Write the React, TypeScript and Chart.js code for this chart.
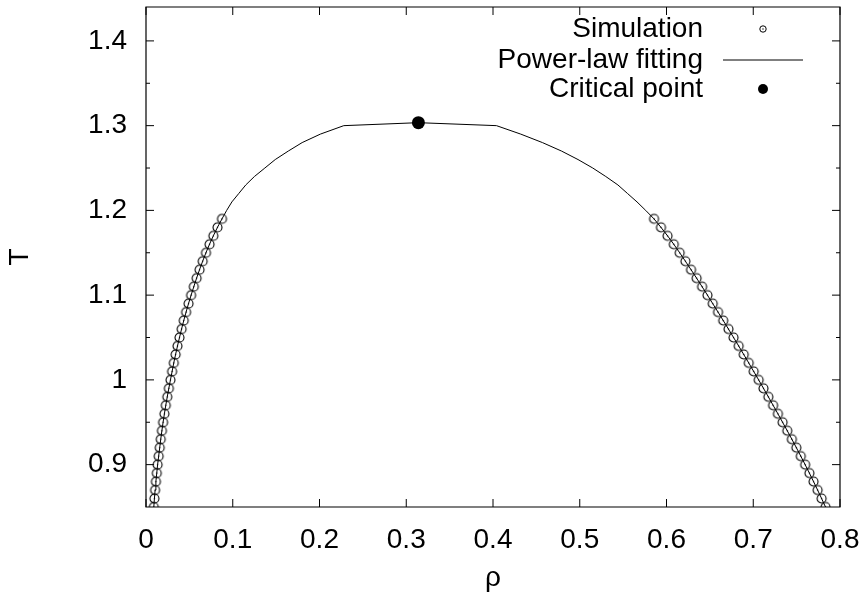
import React, { useEffect, useRef } from 'react';
import { Chart, registerables } from 'chart.js';

Chart.register(...registerables);

// Simulation temperatures (T) and coexistence densities (rho)
const simTemps = [0.85, 0.86, 0.87, 0.88, 0.89, 0.9, 0.91, 0.92, 0.93, 0.94, 0.95, 0.96, 0.97, 0.98, 0.99, 1.0, 1.01, 1.02, 1.03, 1.04, 1.05, 1.06, 1.07, 1.08, 1.09, 1.1, 1.11, 1.12, 1.13, 1.14, 1.15, 1.16, 1.17, 1.18, 1.19];
const simGasRho = [0.009, 0.0097, 0.0105, 0.0114, 0.0124, 0.0134, 0.0146, 0.0158, 0.017, 0.0183, 0.0197, 0.0212, 0.0228, 0.0245, 0.0263, 0.0282, 0.0301, 0.032, 0.0341, 0.0363, 0.0386, 0.041, 0.0435, 0.0462, 0.049, 0.052, 0.0551, 0.0583, 0.0617, 0.0653, 0.0691, 0.0732, 0.0776, 0.0824, 0.0876];
const simLiquidRho = [0.7833, 0.7788, 0.7742, 0.7695, 0.7647, 0.7598, 0.7548, 0.7497, 0.7445, 0.7392, 0.7338, 0.7284, 0.7229, 0.7174, 0.7118, 0.7062, 0.7005, 0.6948, 0.689, 0.6832, 0.6773, 0.6714, 0.6654, 0.6594, 0.6533, 0.6472, 0.641, 0.6347, 0.6283, 0.6218, 0.6152, 0.6084, 0.6012, 0.5936, 0.5856];

// Power-law fit continuation above the simulated range
const fitTemps = [1.2, 1.21, 1.22, 1.23, 1.24, 1.25, 1.26, 1.27, 1.28, 1.29, 1.3];
const fitGasRho = [0.093, 0.099, 0.107, 0.115, 0.125, 0.137, 0.149, 0.164, 0.18, 0.201, 0.228];
const fitLiquidRho = [0.576, 0.566, 0.555, 0.544, 0.53, 0.515, 0.498, 0.479, 0.457, 0.432, 0.404];

const criticalRho = [0.314];
const criticalT = [1.3035];

const xTickValues = [0, 0.1, 0.2, 0.3, 0.4, 0.5, 0.6, 0.7, 0.8];
const xTickLabels = ['0', '0.1', '0.2', '0.3', '0.4', '0.5', '0.6', '0.7', '0.8'];
const yTickValues = [0.9, 0.95, 1.0, 1.05, 1.1, 1.15, 1.2, 1.25, 1.3, 1.35, 1.4];
const yTickLabels = ['0.9', '', '1', '', '1.1', '', '1.2', '', '1.3', '', '1.4'];

const legendLabels = ['Simulation', 'Power-law fitting', 'Critical point'];
const xTitle = 'ρ';
const yTitle = 'T';

const FONT = '"Liberation Sans", Arial, Helvetica, sans-serif';
const FONT_SIZE = 28;

function makeOpenCircle(r: number): HTMLCanvasElement {
  const size = Math.ceil(r * 2 + 4);
  const c = document.createElement('canvas');
  c.width = size;
  c.height = size;
  const g = c.getContext('2d')!;
  g.strokeStyle = '#000';
  g.lineWidth = 1.1;
  g.beginPath();
  g.arc(size / 2, size / 2, r, 0, Math.PI * 2);
  g.stroke();
  g.fillStyle = '#000';
  g.fillRect(size / 2 - 0.6, size / 2 - 0.6, 1.2, 1.2);
  return c;
}

const framePlugin = {
  id: 'gnuFrame',
  afterDraw(chart: any) {
    const { ctx, chartArea, scales } = chart;
    const { left, right, top, bottom } = chartArea;
    const xs = scales.x;
    const ys = scales.y;
    ctx.save();
    ctx.strokeStyle = '#000';
    ctx.lineWidth = 1.2;
    ctx.beginPath();
    ctx.rect(left, top, right - left, bottom - top);
    ctx.stroke();
    ctx.lineWidth = 1;
    ctx.beginPath();
    xTickValues.forEach((v) => {
      const px = xs.getPixelForValue(v);
      ctx.moveTo(px, bottom);
      ctx.lineTo(px, bottom - 8);
      ctx.moveTo(px, top);
      ctx.lineTo(px, top + 8);
    });
    yTickValues.forEach((v, i) => {
      const py = ys.getPixelForValue(v);
      const len = yTickLabels[i] === '' ? 4 : 8;
      ctx.moveTo(left, py);
      ctx.lineTo(left + len, py);
      ctx.moveTo(right, py);
      ctx.lineTo(right - len, py);
    });
    ctx.stroke();

    // Legend (gnuplot style: text right-aligned, sample to the right)
    const textX = 703;
    const symX = 763;
    const rows = [29, 60, 89];
    ctx.font = `${FONT_SIZE}px ${FONT}`;
    ctx.fillStyle = '#000';
    ctx.textAlign = 'right';
    ctx.textBaseline = 'middle';
    legendLabels.forEach((t, i) => ctx.fillText(t, textX, rows[i]));
    // simulation symbol
    ctx.beginPath();
    ctx.arc(symX, rows[0], 3.2, 0, Math.PI * 2);
    ctx.stroke();
    ctx.fillRect(symX - 0.6, rows[0] - 0.6, 1.2, 1.2);
    // line
    ctx.beginPath();
    ctx.moveTo(723, rows[1]);
    ctx.lineTo(803, rows[1]);
    ctx.stroke();
    // critical
    ctx.beginPath();
    ctx.arc(symX, rows[2], 5, 0, Math.PI * 2);
    ctx.fill();
    ctx.restore();
  },
};

export default function App() {
  const canvasRef = useRef<HTMLCanvasElement | null>(null);

  useEffect(() => {
    if (!canvasRef.current) return;
    Chart.defaults.font.family = FONT;
    Chart.defaults.color = '#000';

    const simPoints = [
      ...simTemps.map((t, i) => ({ x: simGasRho[i], y: t })),
      ...simTemps.map((t, i) => ({ x: simLiquidRho[i], y: t })),
    ];
    const fitPoints = [
      ...simTemps.map((t, i) => ({ x: simGasRho[i], y: t })),
      ...fitTemps.map((t, i) => ({ x: fitGasRho[i], y: t })),
      { x: criticalRho[0], y: criticalT[0] },
      ...fitTemps.map((t, i) => ({ x: fitLiquidRho[i], y: t })).reverse(),
      ...simTemps.map((t, i) => ({ x: simLiquidRho[i], y: t })).reverse(),
    ];
    const critPoints = criticalRho.map((r, i) => ({ x: r, y: criticalT[i] }));

    const chart = new Chart(canvasRef.current, {
      type: 'scatter',
      data: {
        datasets: [
          {
            label: legendLabels[2],
            data: critPoints,
            pointStyle: 'circle',
            pointRadius: 6.5,
            backgroundColor: '#000',
            borderColor: '#000',
            borderWidth: 0,
            showLine: false,
          },
          {
            label: legendLabels[0],
            data: simPoints,
            pointStyle: makeOpenCircle(4.5),
            pointRadius: 4.5,
            showLine: false,
          },
          {
            label: legendLabels[1],
            data: fitPoints,
            showLine: true,
            borderColor: '#000',
            borderWidth: 1,
            pointRadius: 0,
            tension: 0,
            fill: false,
          },
        ],
      },
      options: {
        animation: false,
        responsive: true,
        maintainAspectRatio: false,
        events: [],
        layout: { padding: { top: 7, right: 27, left: 0, bottom: 0 } },
        plugins: { legend: { display: false }, tooltip: { enabled: false } },
        scales: {
          x: {
            type: 'linear',
            min: 0,
            max: 0.8,
            grid: { display: false, drawTicks: false },
            border: { display: false },
            afterBuildTicks: (s: any) => {
              s.ticks = xTickValues.map((v) => ({ value: v }));
            },
            afterFit: (s: any) => {
              s.height = 91;
              s.paddingLeft = 0;
              s.paddingRight = 0;
            },
            ticks: {
              autoSkip: false,
              maxRotation: 0,
              padding: 16,
              font: { size: FONT_SIZE },
              color: '#000',
              callback: (_v: any, i: number) => xTickLabels[i],
            },
            title: {
              display: true,
              text: xTitle,
              font: { size: FONT_SIZE },
              color: '#000',
              padding: { top: 0, bottom: 3 },
            },
          },
          y: {
            type: 'linear',
            min: 0.85,
            max: 1.44,
            grid: { display: false, drawTicks: false },
            border: { display: false },
            afterBuildTicks: (s: any) => {
              s.ticks = yTickValues.map((v) => ({ value: v }));
            },
            afterFit: (s: any) => {
              s.width = 146;
              s.paddingTop = 0;
              s.paddingBottom = 0;
            },
            ticks: {
              autoSkip: false,
              padding: 19,
              font: { size: FONT_SIZE },
              color: '#000',
              callback: (_v: any, i: number) => yTickLabels[i],
            },
            title: {
              display: true,
              text: yTitle,
              font: { size: FONT_SIZE },
              color: '#000',
              padding: { top: 3, bottom: 0 },
            },
          },
        },
      },
      plugins: [framePlugin],
    });
    return () => chart.destroy();
  }, []);

  return (
    <div style={{ position: 'absolute', left: 0, top: 0, width: 867, height: 598, background: '#fff' }}>
      <canvas ref={canvasRef} />
    </div>
  );
}
